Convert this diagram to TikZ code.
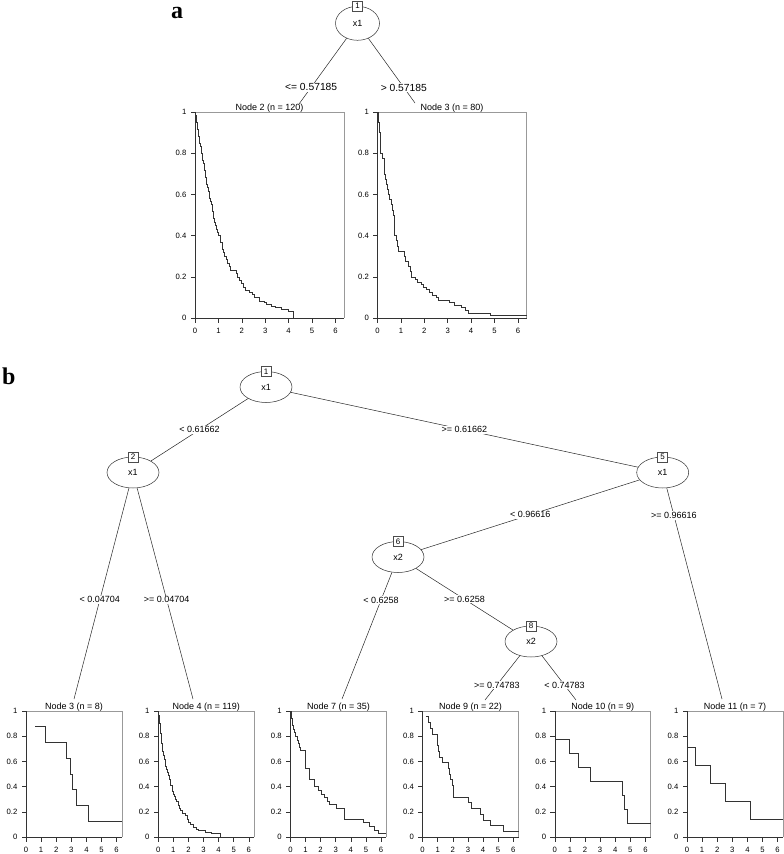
\documentclass[tikz,border=0pt]{standalone}
\usepackage{fontspec}
\setmainfont{Liberation Sans}
\newfontfamily\panelfont{Liberation Serif}
\usetikzlibrary{shapes.geometric}

\newcommand\kmpanel[8]{%
\begin{scope}[shift={(#2,#3)}]
  \draw[frametop] (0,0) -- (#4,0) -- (#4,#5);
  \draw[axisline] (0,0) -- (0,#5) -- (#4,#5);
  \node[paneltitle] (#1) at (#4/2,-1.5) {#6};
  \foreach \v/\l [count=\i] in {0/0,0.2/0.2,0.4/0.4,0.6/0.6,0.8/0.8,1/1}{
    \draw[axisline] (0,{#5*(1-\v)}) -- (-4.5,{#5*(1-\v)});
    \node[ticklbl, anchor=east] (#1y\i) at (-8.5,{#5*(1-\v)}) {\l};
  }
  \foreach \t in {0,...,6}{
    \draw[axisline] ({\t*#7},#5) -- ({\t*#7},#5+4.5);
    \node[ticklbl] (#1x\t) at ({\t*#7},#5+12.7) {\t};
  }
  \begin{scope}[shift={(0,#5)}, x=#7pt, y=#5pt]
    \draw[curve] plot[const plot] coordinates {#8};
  \end{scope}
\end{scope}}

\begin{document}
\begin{tikzpicture}[x=1pt,y=-1pt,
  every node/.style={font=\fontsize{9}{10}\selectfont},
  splitnode/.style={ellipse, draw=black!80, line width=0.5pt, inner sep=0pt,
                    minimum width=52pt, minimum height=31pt},
  splitnodeA/.style={splitnode, minimum width=44pt, minimum height=34pt},
  numbox/.style={draw=black!70, fill=white, line width=0.5pt, inner sep=0pt,
                 minimum width=10pt, minimum height=10pt, font=\fontsize{8}{9}\selectfont},
  edge/.style={draw=black!85, line width=0.5pt},
  lbl/.style={fill=white, inner sep=1pt},
  lblA/.style={lbl, font=\fontsize{10.3}{11}\selectfont},
  frametop/.style={draw=black!40, line width=0.9pt},
  axisline/.style={draw=black!80, line width=0.5pt},
  curve/.style={draw=black!80, line width=0.55pt},
  ticklbl/.style={font=\fontsize{7.7}{8}\selectfont, inner sep=0pt},
  paneltitle/.style={anchor=base, inner sep=0pt},
  panellabel/.style={font=\panelfont\bfseries\fontsize{24}{26}\selectfont, anchor=base west, inner sep=0pt}]

\useasboundingbox (0,0) rectangle (784,854);

% ================= panel a =================
\node[panellabel] (la) at (171,18) {a};
\node[splitnodeA] (a1) at (357.5,23.3) {x1};
\node[numbox] (a1b) at (a1.north) {1};

\kmpanel{tA2}{195}{112}{149}{206}{Node 2 (n = 120)}{23.4}{%
(0,1)(0.02,0.983)(0.04,0.967)(0.06,0.95)(0.08,0.933)(0.1,0.917)(0.13,0.9)(0.15,0.883)(0.18,0.867)(0.2,0.85)(0.22,0.833)(0.25,0.817)(0.27,0.8)(0.3,0.783)(0.33,0.767)(0.36,0.75)(0.38,0.733)(0.41,0.717)(0.43,0.7)(0.45,0.683)(0.47,0.667)(0.5,0.65)(0.52,0.633)(0.56,0.617)(0.6,0.6)(0.63,0.583)(0.67,0.567)(0.7,0.55)(0.72,0.533)(0.74,0.517)(0.76,0.5)(0.78,0.483)(0.82,0.467)(0.86,0.45)(0.9,0.433)(0.96,0.417)(1.01,0.4)(1.07,0.383)(1.1,0.367)(1.15,0.35)(1.18,0.333)(1.21,0.317)(1.27,0.3)(1.33,0.283)(1.4,0.267)(1.45,0.25)(1.52,0.233)(1.75,0.217)(1.82,0.2)(1.9,0.183)(1.97,0.167)(2.05,0.15)(2.15,0.133)(2.3,0.125)(2.45,0.117)(2.55,0.1)(2.75,0.083)(2.95,0.075)(3.05,0.067)(3.25,0.058)(3.45,0.05)(3.7,0.042)(4.0,0.033)(4.22,0)(6.37,0)}

\kmpanel{tA3}{377.5}{112}{149}{206}{Node 3 (n = 80)}{23.4}{%
(0,1)(0.02,0.975)(0.04,0.95)(0.06,0.925)(0.08,0.9)(0.1,0.85)(0.12,0.8)(0.2,0.775)(0.28,0.75)(0.3,0.7)(0.34,0.675)(0.38,0.65)(0.4,0.625)(0.46,0.6)(0.52,0.575)(0.58,0.55)(0.62,0.525)(0.66,0.5)(0.7,0.45)(0.72,0.4)(0.8,0.375)(0.86,0.35)(0.9,0.325)(1.14,0.3)(1.2,0.275)(1.3,0.25)(1.38,0.225)(1.46,0.2)(1.6,0.1875)(1.68,0.175)(1.85,0.1625)(1.95,0.15)(2.08,0.1375)(2.2,0.125)(2.35,0.1125)(2.5,0.1)(2.6,0.0875)(3.05,0.075)(3.3,0.0625)(3.6,0.05)(3.75,0.0375)(3.9,0.025)(4.8,0.0125)(6.37,0.0125)}

\coordinate (ea2) at (299,104);
\coordinate (ea3) at (415,103);
\draw[edge] (a1) -- node[lblA, pos=0.745] (la2) {<= 0.57185} (ea2);
\draw[edge] (a1) -- node[lblA, pos=0.76] (la3) {> 0.57185} (ea3);

% ================= panel b =================
\node[panellabel] (lb) at (2,384) {b};

\node[splitnode] (b1) at (266,387) {x1};
\node[splitnode] (b2) at (133,472.5) {x1};
\node[splitnode] (b5) at (662.7,472.5) {x1};
\node[splitnode] (b6) at (398,557) {x2};
\node[splitnode] (b8) at (531,641.5) {x2};
\node[numbox] (b1b) at (b1.north) {1};
\node[numbox] (b2b) at (b2.north) {2};
\node[numbox] (b5b) at (b5.north) {5};
\node[numbox] (b6b) at (b6.north) {6};
\node[numbox] (b8b) at (b8.north) {8};

\kmpanel{tB3}{26}{711}{96}{126}{Node 3 (n = 8)}{15.1}{%
(0.6,0.875)(1.26,0.75)(2.69,0.625)(2.91,0.5)(3.09,0.375)(3.31,0.25)(4.13,0.125)(6.36,0.125)}

\kmpanel{tB4}{158.2}{711}{96}{126}{Node 4 (n = 119)}{15.1}{%
(0,1)(0.03,0.97)(0.06,0.94)(0.09,0.9)(0.12,0.86)(0.15,0.82)(0.19,0.78)(0.22,0.74)(0.26,0.71)(0.3,0.68)(0.33,0.65)(0.38,0.62)(0.44,0.59)(0.5,0.56)(0.55,0.54)(0.6,0.51)(0.66,0.49)(0.72,0.46)(0.77,0.44)(0.83,0.41)(0.9,0.38)(0.95,0.36)(0.99,0.34)(1.07,0.32)(1.15,0.3)(1.21,0.28)(1.3,0.25)(1.37,0.23)(1.43,0.21)(1.6,0.19)(1.77,0.17)(1.9,0.14)(1.99,0.12)(2.15,0.1)(2.3,0.08)(2.5,0.065)(2.65,0.05)(3.1,0.04)(3.5,0.033)(3.86,0.027)(4.08,0)(6.36,0)}

\kmpanel{tB7}{290.4}{711}{96}{126}{Node 7 (n = 35)}{15.1}{%
(0,1)(0.03,0.971)(0.06,0.943)(0.1,0.914)(0.14,0.886)(0.2,0.857)(0.25,0.829)(0.35,0.8)(0.45,0.771)(0.52,0.743)(0.58,0.714)(0.66,0.686)(0.99,0.543)(1.28,0.457)(1.57,0.4)(1.85,0.371)(2.05,0.343)(2.27,0.314)(2.45,0.286)(2.6,0.257)(3.05,0.229)(3.55,0.2)(3.6,0.143)(4.81,0.114)(5.25,0.086)(5.55,0.057)(5.85,0.029)(6.36,0.029)}

\kmpanel{tB9}{422.6}{711}{96}{126}{Node 9 (n = 22)}{15.1}{%
(0.22,0.955)(0.35,0.909)(0.5,0.864)(0.62,0.818)(0.95,0.727)(1.05,0.682)(1.12,0.636)(1.28,0.591)(1.72,0.545)(1.78,0.5)(1.85,0.455)(1.94,0.409)(2.05,0.318)(3.05,0.273)(3.2,0.227)(3.8,0.182)(4.02,0.136)(4.48,0.091)(5.36,0.045)(6.36,0.045)}

\kmpanel{tB10}{554.8}{711}{96}{126}{Node 10 (n = 9)}{15.1}{%
(0,0.889)(0.03,0.778)(0.99,0.667)(1.54,0.556)(2.33,0.444)(4.44,0.333)(4.62,0.222)(4.77,0.111)(6.36,0.111)}

\kmpanel{tB11}{687}{711}{96}{126}{Node 11 (n = 7)}{15.1}{%
(0,0.714)(0.55,0.571)(1.55,0.429)(2.55,0.286)(4.22,0.143)(6.36,0.143)}

\coordinate (e3) at (74,699);
\coordinate (e4) at (193,699);
\coordinate (e7) at (342,699);
\coordinate (e9) at (485,700);
\coordinate (e10) at (576,700);
\coordinate (e11) at (722,699);

\draw[edge] (b1) -- node[lbl, pos=0.5] (l12) {< 0.61662} (b2);
\draw[edge] (b1) -- node[lbl, pos=0.5] (l15) {>= 0.61662} (b5);
\draw[edge] (b2) -- node[lbl, pos=0.53] (l23) {< 0.04704} (e3);
\draw[edge] (b2) -- node[lbl, pos=0.53] (l24) {>= 0.04704} (e4);
\draw[edge] (b5) -- node[lbl, pos=0.5] (l56) {< 0.96616} (b6);
\draw[edge] (b5) -- node[lbl, pos=0.13] (l511) {>= 0.96616} (e11);
\draw[edge] (b6) -- node[lbl, pos=0.22] (l67) {< 0.6258} (e7);
\draw[edge] (b6) -- node[lbl, pos=0.5] (l68) {>= 0.6258} (b8);
\draw[edge] (b8) -- node[lbl, pos=0.66] (l89) {>= 0.74783} (e9);
\draw[edge] (b8) -- node[lbl, pos=0.66] (l810) {< 0.74783} (e10);

\end{tikzpicture}
\end{document}
